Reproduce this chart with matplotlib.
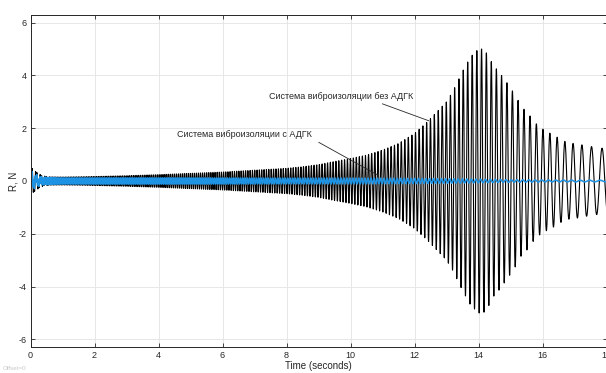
import matplotlib

matplotlib.use("Agg")
import matplotlib.pyplot as plt  # noqa: E402
import numpy as np  # noqa: E402

plt.rcParams["font.family"] = ["Liberation Sans", "DejaVu Sans"]
plt.rcParams["axes.unicode_minus"] = False

# envelope of the response (time s, amplitude N)
ENV_T = [0, 0.3, 1, 2, 3, 4, 5, 6, 7, 8, 8.5, 9, 9.5, 10, 10.5, 11, 11.5,
         12, 12.4, 12.7, 13.0, 13.2, 13.5, 13.75, 14.0, 14.15, 14.3, 14.45,
         14.65, 14.9, 15.15, 15.35, 15.55, 15.7, 15.9, 16.15, 16.35, 16.6,
         16.8, 17.1, 17.35, 17.65, 18]
ENV_NO_ADGK = [0.2, 0.16, 0.15, 0.17, 0.2, 0.24, 0.29, 0.34, 0.41, 0.48,
               0.54, 0.62, 0.74, 0.85, 0.98, 1.17, 1.42, 1.8, 2.24, 2.62,
               3.0, 3.4, 4.15, 4.7, 5.0, 5.0, 4.77, 4.4, 4.12, 3.7, 3.25,
               2.8, 2.57, 2.3, 2.05, 1.86, 1.74, 1.55, 1.45, 1.40, 1.34,
               1.28, 1.22]
BLUE_T = [0, 0.3, 1, 3, 5, 8, 10, 12, 13, 14, 15, 16, 18]
ENV_ADGK = [0.2, 0.14, 0.12, 0.12, 0.12, 0.11, 0.11, 0.1, 0.09, 0.07,
            0.05, 0.04, 0.03]

# start-up transient (time s, amplitude N)
TR_T = [0, 0.1, 0.25, 0.4, 0.6]
TR_NO_ADGK = [0.55, 0.4, 0.2, 0.05, 0.0]
TR_ADGK = [0.25, 0.15, 0.08, 0.02, 0.0]
TR_HZ = 7.0

# excitation frequency sweep (time s, Hz)
SWEEP_T = [0, 14, 14.8, 17.5, 18]
SWEEP_HZ = [21.0, 6.8, 6.0, 3.2, 2.8]

X_TICKS = [0, 2, 4, 6, 8, 10, 12, 14, 16, 18]
Y_TICKS = [-6, -4, -2, 0, 2, 4, 6]

t = np.linspace(0, 18, 36001)
dt = t[1] - t[0]
phase = 2 * np.pi * np.cumsum(np.interp(t, SWEEP_T, SWEEP_HZ)) * dt
carrier_tr = np.sin(2 * np.pi * TR_HZ * t)
r_no = (np.interp(t, ENV_T, ENV_NO_ADGK) * np.sin(phase)
        + np.interp(t, TR_T, TR_NO_ADGK) * carrier_tr)
r_adgk = (np.interp(t, BLUE_T, ENV_ADGK) * np.sin(phase + 1.2)
          + np.interp(t, TR_T, TR_ADGK) * carrier_tr)

dark = "#262626"
fig = plt.figure(figsize=(6.06, 3.73), dpi=100)
ax = fig.add_axes([30.5 / 606, 25.7 / 373, 576 / 606, 332.6 / 373])
ax.plot(t, r_no, color="black", lw=0.8)
ax.plot(t, r_adgk, color="#1e93e4", lw=1.1)

ax.set_xlim(0, 18)
ax.set_ylim(-6.3, 6.3)
ax.set_xticks(X_TICKS)
ax.set_yticks(Y_TICKS)
ax.grid(color="#e3e3e3", lw=0.6)
ax.set_axisbelow(True)
ax.tick_params(direction="in", top=True, right=True, length=3, width=0.6,
               color=dark, labelcolor=dark, labelsize=6.5, pad=3)
for s in ax.spines.values():
    s.set_color(dark)
    s.set_linewidth(0.7)
ax.set_xlabel("Time (seconds)", fontsize=7, color=dark, labelpad=0.5)
ax.set_ylabel("R, N", fontsize=7, color=dark, labelpad=0)

ax.annotate("Система виброизоляции без АДГК", xy=(12.45, 2.28),
            xytext=(9.72, 3.2), ha="center", va="center", fontsize=6.5,
            color=dark,
            arrowprops=dict(arrowstyle="-", color=dark, lw=0.6,
                            shrinkA=0, shrinkB=0,
                            relpos=(0.73, 0.0)))
ax.annotate("Система виброизоляции с АДГК", xy=(10.86, 0.22),
            xytext=(6.70, 1.77), ha="center", va="center", fontsize=6.5,
            color=dark,
            arrowprops=dict(arrowstyle="-", color=dark, lw=0.6,
                            shrinkA=3, shrinkB=0,
                            relpos=(1.0, 0.0)))

fig.text(3 / 606, 1 - 369 / 373, "Offset=0", fontsize=4.5, color="#c8c8c8",
         va="center")
fig.savefig("out.png")
